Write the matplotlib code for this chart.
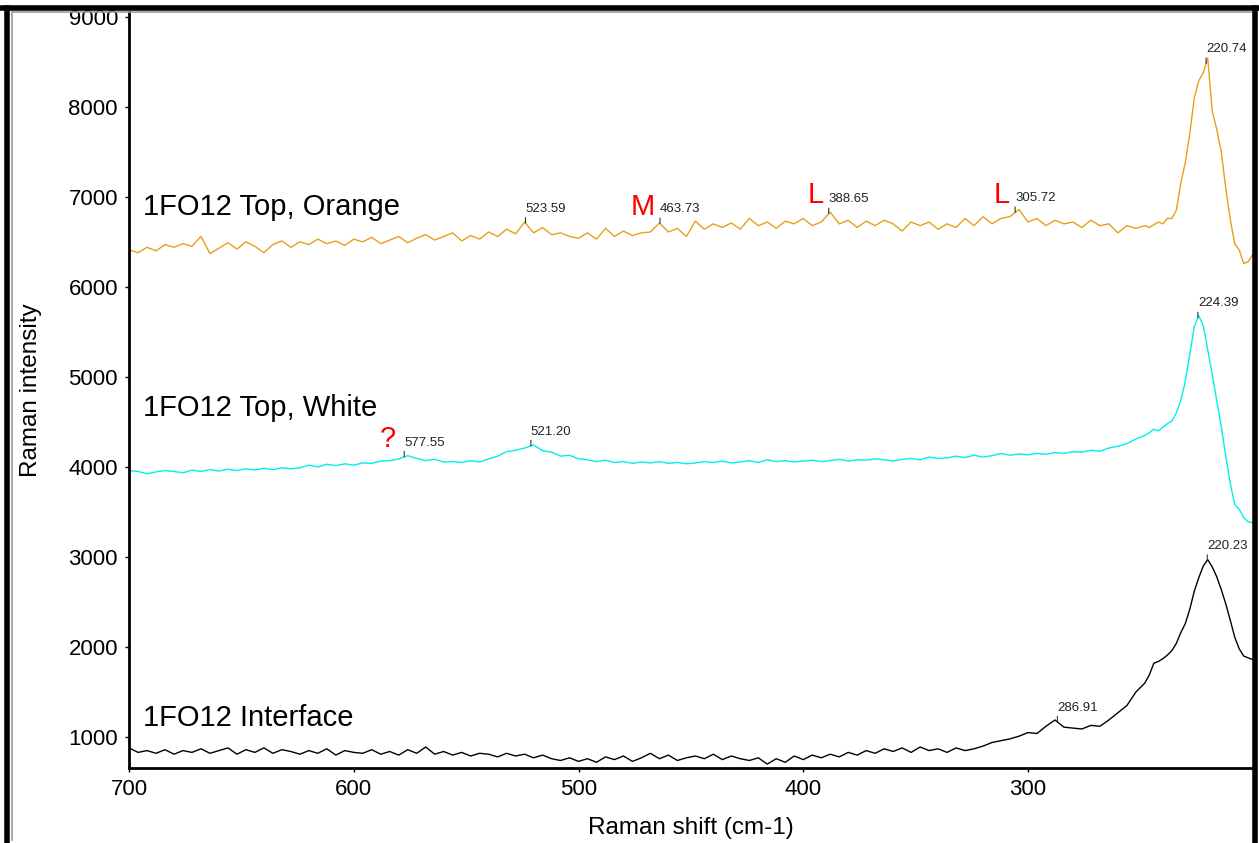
import numpy as np
import matplotlib
matplotlib.use("Agg")
import matplotlib.pyplot as plt
from matplotlib.lines import Line2D

plt.rcParams['font.family'] = ['Liberation Sans', 'DejaVu Sans']

# raman shift grid (cm-1): coarse on the flat part, finer over the big peak
shift = np.concatenate([np.arange(700, 247, -4), np.arange(246, 199, -2)])

orange = [
    6410, 6380, 6440, 6400, 6470, 6440, 6480, 6450, 6560, 6370,
    6430, 6490, 6420, 6500, 6450, 6380, 6470, 6510, 6440, 6500,
    6470, 6530, 6480, 6510, 6460, 6530, 6500, 6550, 6480, 6520,
    6560, 6490, 6540, 6580, 6520, 6560, 6600, 6510, 6570, 6530,
    6610, 6560, 6640, 6590, 6720, 6600, 6660, 6580, 6600, 6560,
    6540, 6600, 6530, 6650, 6560, 6620, 6570, 6600, 6610, 6710,
    6610, 6650, 6560, 6730, 6640, 6700, 6660, 6710, 6640, 6760,
    6680, 6720, 6650, 6730, 6700, 6760, 6680, 6720, 6830, 6700,
    6740, 6660, 6730, 6680, 6740, 6700, 6620, 6720, 6680, 6720,
    6640, 6700, 6660, 6760, 6680, 6780, 6700, 6760, 6780, 6860,
    6720, 6760, 6680, 6740, 6700, 6720, 6660, 6740, 6680, 6700,
    6600, 6680, 6650, 6680,
    # 246 .. 200
    6660, 6690, 6720, 6700, 6760, 6760, 6850, 7150, 7380, 7700,
    8100, 8290, 8380, 8540, 7950, 7750, 7500, 7100, 6750, 6480,
    6410, 6260, 6280, 6360,
]

white = [
    3960, 3950, 3925, 3945, 3960, 3950, 3935, 3965, 3950, 3970,
    3955, 3975, 3960, 3980, 3965, 3985, 3970, 3990, 3980, 3990,
    4020, 4000, 4030, 4015, 4035, 4020, 4045, 4040, 4065, 4070,
    4090, 4125, 4095, 4070, 4085, 4055, 4060, 4050, 4070, 4055,
    4090, 4120, 4170, 4185, 4210, 4245, 4180, 4165, 4120, 4130,
    4090, 4080, 4060, 4075, 4050, 4060, 4040, 4055, 4045, 4060,
    4040, 4050, 4035, 4045, 4060, 4050, 4065, 4045, 4055, 4070,
    4050, 4080, 4060, 4070, 4055, 4065, 4075, 4060, 4070, 4085,
    4065, 4080, 4075, 4090, 4080, 4065, 4085, 4095, 4080, 4110,
    4095, 4100, 4120, 4105, 4130, 4110, 4125, 4150, 4130, 4145,
    4135, 4150, 4140, 4160, 4150, 4170, 4165, 4185, 4175, 4210,
    4230, 4260, 4310, 4350,
    # 246 .. 200
    4380, 4420, 4400, 4440, 4480, 4510, 4600, 4740, 4950, 5250,
    5560, 5680, 5570, 5300, 5020, 4740, 4450, 4120, 3820, 3580,
    3530, 3440, 3390, 3380,
]

interface = [
    880, 830, 850, 820, 860, 810, 850, 830, 870, 820,
    850, 880, 810, 860, 830, 880, 820, 860, 840, 810,
    850, 820, 870, 800, 850, 830, 820, 860, 810, 840,
    800, 860, 820, 890, 810, 840, 800, 830, 790, 820,
    810, 780, 820, 790, 810, 770, 800, 760, 740, 770,
    730, 760, 720, 780, 750, 790, 730, 770, 820, 760,
    800, 740, 770, 790, 760, 810, 750, 790, 760, 740,
    770, 700, 760, 720, 790, 750, 800, 770, 810, 780,
    830, 800, 850, 820, 870, 840, 880, 830, 890, 850,
    870, 830, 880, 850, 870, 900, 940, 960, 980, 1010,
    1050, 1040, 1120, 1190, 1110, 1100, 1090, 1130, 1120, 1190,
    1270, 1350, 1500, 1600,
    # 246 .. 200
    1690, 1820, 1840, 1870, 1910, 1960, 2040, 2160, 2260, 2420,
    2620, 2770, 2900, 2970, 2890, 2780, 2640, 2480, 2300, 2110,
    1980, 1900, 1880, 1860,
]

series_names = ['1FO12 Top, Orange', '1FO12 Top, White', '1FO12 Interface']
series_colors = ['#E6A118', '#00EEEE', 'black']
name_y = [6884, 4650, 1210]

# peak labels per series
orange_peaks = [523.59, 463.73, 388.65, 305.72, 220.74]
white_peaks = [577.55, 521.20, 224.39]
interface_peaks = [286.91, 220.23]

# red phase markers: (letter, shift, intensity)
markers = [('M', 471.5, 6890), ('L', 394.5, 7020), ('L', 311.5, 7020), ('?', 585, 4310)]

fig = plt.figure(figsize=(12.59, 8.43), dpi=100)
ax = fig.add_axes([0.1025, 0.089, 0.8925, 0.897])

data = [orange, white, interface]
peaks = [orange_peaks, white_peaks, interface_peaks]
for vals, col, pk in zip(data, series_colors, peaks):
    vals = np.array(vals, dtype=float)
    ax.plot(shift, vals, color=col, lw=1.0)
    # np.interp needs increasing x
    for p in pk:
        yv = np.interp(p, shift[::-1], vals[::-1])
        ax.annotate('%.2f' % p, xy=(p, yv), xytext=(0, 6), textcoords='offset points',
                    ha='left', va='bottom', fontsize=9.5, color='#222222',
                    arrowprops=dict(arrowstyle='-', color='#333333', lw=0.8,
                                    shrinkA=0, shrinkB=0, relpos=(0, 0)))

for name, ny in zip(series_names, name_y):
    ax.text(694, ny, name, fontsize=21, va='center', ha='left')

for letter, xs, ys in markers:
    ax.text(xs, ys, letter, color='red', fontsize=21, ha='center', va='center')

ax.set_xlim(700, 200)
ax.set_ylim(657, 9055)
ax.set_xticks([700, 600, 500, 400, 300])
ax.set_yticks([1000, 2000, 3000, 4000, 5000, 6000, 7000, 8000, 9000])
ax.tick_params(labelsize=16, length=3, width=1, direction='out', pad=5)
ax.spines['top'].set_visible(False)
ax.spines['right'].set_visible(False)
ax.spines['left'].set_linewidth(2)
ax.spines['bottom'].set_linewidth(2)
ax.set_xlabel('Raman shift (cm-1)', fontsize=17.5, labelpad=12)
ax.set_ylabel('Raman intensity', fontsize=17.5, labelpad=19)

# window frame around the picture
fig.add_artist(Line2D([0.0055, 0.0055], [0.0, 0.991], color='black', lw=4))
fig.add_artist(Line2D([0.0, 1.0], [0.991, 0.991], color='black', lw=4))
fig.add_artist(Line2D([0.997, 0.997], [0.0, 0.991], color='black', lw=4))
fig.add_artist(Line2D([0.0095, 0.0095], [0.003, 0.986], color='#999999', lw=1.2))
fig.add_artist(Line2D([0.0095, 0.994], [0.986, 0.986], color='#999999', lw=1.2))

fig.savefig('out.png', dpi=100)
